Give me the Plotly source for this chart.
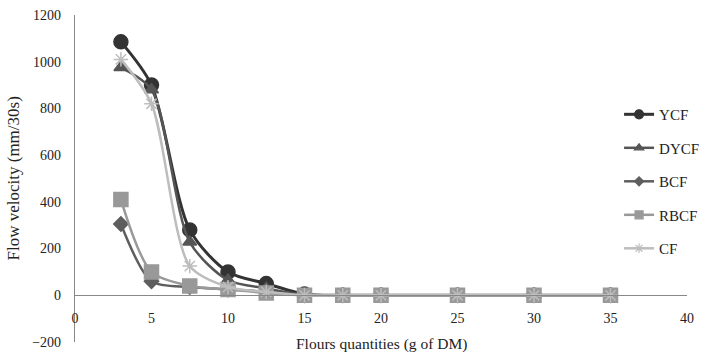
import plotly.graph_objects as go

x_vals = [3, 5, 7.5, 10, 12.5, 15, 17.5, 20, 25, 30, 35]
ycf = [1085, 900, 280, 100, 50, 5, 0, 0, 0, 0, 0]
dycf = [975, 880, 228, 65, 30, 2, 0, 0, 0, 0, 0]
bcf = [305, 60, 35, 25, 15, 0, 0, 0, 0, 0, 0]
rbcf = [410, 100, 40, 25, 10, 0, 0, 0, 0, 0, 0]
cf = [1010, 820, 125, 35, 15, 0, 0, 0, 0, 0, 0]

series = [
    ("YCF", ycf, "#333333", "circle", 14, 3, 9),
    ("DYCF", dycf, "#555555", "triangle-up", 12, 2.5, 8),
    ("BCF", bcf, "#5e5e5e", "diamond", 11, 2.5, 7),
    ("RBCF", rbcf, "#999999", "square", 14, 2.5, 8),
    ("CF", cf, "#bdbdbd", "asterisk-open", 12, 2.5, 8),
]

fig = go.Figure()
for name, vals, color, sym, size, lw, lsize in series:
    fig.add_trace(go.Scatter(
        x=x_vals, y=vals, name=name, mode="lines+markers",
        line=dict(color=color, width=lw, shape="spline", smoothing=0.8),
        marker=dict(symbol=sym, size=size, color=color,
                    line=dict(color=color, width=1.5)),
        legendgroup=name, showlegend=False,
    ))
    # legend-only entry with smaller marker
    fig.add_trace(go.Scatter(
        x=[None], y=[None], name=name, mode="lines+markers",
        line=dict(color=color, width=lw),
        marker=dict(symbol=sym, size=lsize, color=color,
                    line=dict(color=color, width=1.2)),
        legendgroup=name, showlegend=True, hoverinfo="skip",
    ))

font_family = "Liberation Serif, Times New Roman, serif"
fig.update_layout(
    width=709, height=354,
    margin=dict(l=75, r=22, t=15, b=12, autoexpand=False),
    paper_bgcolor="white", plot_bgcolor="white",
    font=dict(family=font_family, size=13, color="#222"),
    showlegend=True,
    legend=dict(x=0.889, y=0.746, xanchor="left", yanchor="top",
                bgcolor="rgba(0,0,0,0)", font=dict(size=15, family=font_family),
                tracegroupgap=11, itemwidth=30),
    xaxis=dict(range=[0, 40], tickvals=[0, 5, 10, 15, 20, 25, 30, 35, 40],
               showgrid=False, zeroline=False, showline=True,
               linecolor="#888", linewidth=1.2,
               anchor="free", position=1/7, ticks="",
               tickfont=dict(size=14), ticklabelstandoff=10,
               automargin=False),
    yaxis=dict(range=[-200, 1200], tickvals=list(range(-200, 1201, 200)),
               showgrid=False, zeroline=False, showline=True,
               linecolor="#888", linewidth=1.2, ticks="",
               tickfont=dict(size=14), ticklabelstandoff=10,
               automargin=False),
    annotations=[
        dict(text="Flours quantities (g of DM)", xref="paper", yref="paper",
             x=0.5, y=0.0, yshift=-2, xanchor="center", yanchor="middle",
             showarrow=False, font=dict(size=15.5, family=font_family, color="#222")),
        dict(text="Flow velocity (mm/30s)", xref="paper", yref="paper",
             x=0, xshift=-62, y=0.5, xanchor="center", yanchor="middle",
             textangle=-90, showarrow=False,
             font=dict(size=17, family=font_family, color="#222")),
    ],
)
fig.write_html("out.html")
